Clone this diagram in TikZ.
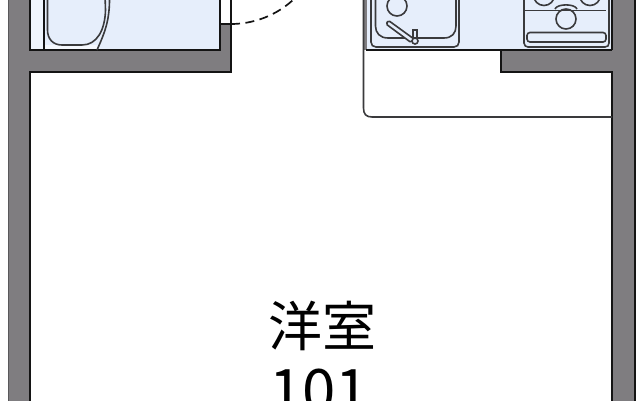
\documentclass[tikz,border=0pt]{standalone}
\usepackage{fontspec}
\newfontfamily\cjk{Noto Sans CJK JP}
\definecolor{wallg}{HTML}{7F7D80}
\definecolor{floorb}{HTML}{E6EEFB}
\definecolor{ink}{HTML}{141414}
\definecolor{fix}{HTML}{3A3A3C}
\tikzset{
  wall/.style={draw=ink,line width=2.3pt,line join=miter},
  fixture/.style={draw=fix,line width=1.6pt},
  label/.style={text=black,inner sep=0pt,anchor=center},
}
\begin{document}
\begin{tikzpicture}[x=1pt,y=-1pt]
\useasboundingbox (0,0) rectangle (640,400);
\clip (0,0) rectangle (640,400);
\fill[white] (0,0) rectangle (640,400);
% floors
\fill[floorb!60] (30,-5) rectangle (44,50);
\fill[floorb] (44,-5) rectangle (220,50);
\fill[floorb!40] (44,45) -- (97,45) -- (97,50) -- (44,50) -- cycle;
\fill[floorb] (366,-5) rectangle (612,50);
% walls
\fill[wallg] (8,-5) rectangle (30,405);
\fill[wallg] (30,50) rectangle (231,72);
\fill[wallg] (220,24) rectangle (231,50);
\fill[wallg] (612,-5) rectangle (635,405);
\fill[wallg] (501,50) rectangle (612,72);
\fill[wallg] (363,-5) rectangle (367,50);
\draw[draw=wallg!70!black,line width=1pt] (8,-5) -- (8,405);
\draw[wall] (30,405) -- (30,72) -- (231,72) -- (231,-5);
\draw[wall] (30,-5) -- (30,50) -- (220,50) -- (220,-5);
\draw[wall] (220,24) -- (231,24);
\draw[wall] (635,-5) -- (635,405);
\draw[wall] (612,-5) -- (612,50);
\draw[wall] (366,50) -- (501,50) -- (501,72) -- (612,72) -- (612,405);
\draw[wall] (501,50) -- (612,50);
% counter
\draw[fixture] (363.5,-5) -- (363.5,108) .. controls (363.5,114) and (366,117) .. (372,117) -- (612,117);
% door swing
\draw[ink,line width=1.7pt,dash pattern=on 9pt off 5.5pt] (231,24) arc[start angle=90,end angle=42,radius=92];
% bath
\draw[ink,line width=1.7pt] (44,-5) -- (44,50);
\draw[fixture] (47.5,-5) -- (47.5,30) .. controls (47.5,39) and (53,45) .. (62,45) -- (82,45) .. controls (97,45) and (105,30) .. (105.5,10) -- (105,-5);
\draw[fixture] (97,50) .. controls (105,32) and (110,20) .. (109.5,-5);
% sink
\draw[fixture] (371,-5) -- (371,42) .. controls (371,45) and (373,47) .. (376,47) -- (454,47) .. controls (457,47) and (459,45) .. (459,42) -- (459,-5);
\draw[fixture] (375.5,-5) -- (375.5,26) .. controls (375.5,33) and (380,38) .. (388,38) -- (444,38) .. controls (452,38) and (456,33) .. (456,26) -- (456,-5);
\draw[fixture] (397,6) circle[radius=10];
\draw[fixture,fill=floorb,rounded corners=1.5pt] (386,24) -- (388.5,20.5) -- (414,39) -- (411,42.5) -- cycle;
\draw[fixture,fill=floorb] (413,30) rectangle (417,38);
\draw[fixture,fill=floorb] (415,41) circle[radius=3];
% stove
\draw[fixture] (524,-5) -- (524,43) .. controls (524,45.5) and (526,47) .. (528,47) -- (605,47) .. controls (607.5,47) and (609,45.5) .. (609,43) -- (609,-5);
\draw[fixture] (524,10.5) -- (606,10.5);
\draw[fixture] (544,-5) circle[radius=10.5];
\draw[fixture] (590,-5) circle[radius=10.5];
\draw[fixture] (555,9) .. controls (557,3.5) and (575,3.5) .. (577,9);
\draw[fixture] (566,19) circle[radius=10];
\draw[fixture,rounded corners=3pt] (527,32.5) rectangle (606,42);
% labels
\node[label,font=\cjk\fontsize{54}{54}\selectfont] (room) at (322,326) {洋室};
\node[label,font=\cjk\fontsize{60}{60}\selectfont] (num) at (319,391) {101};
\end{tikzpicture}
\end{document}
